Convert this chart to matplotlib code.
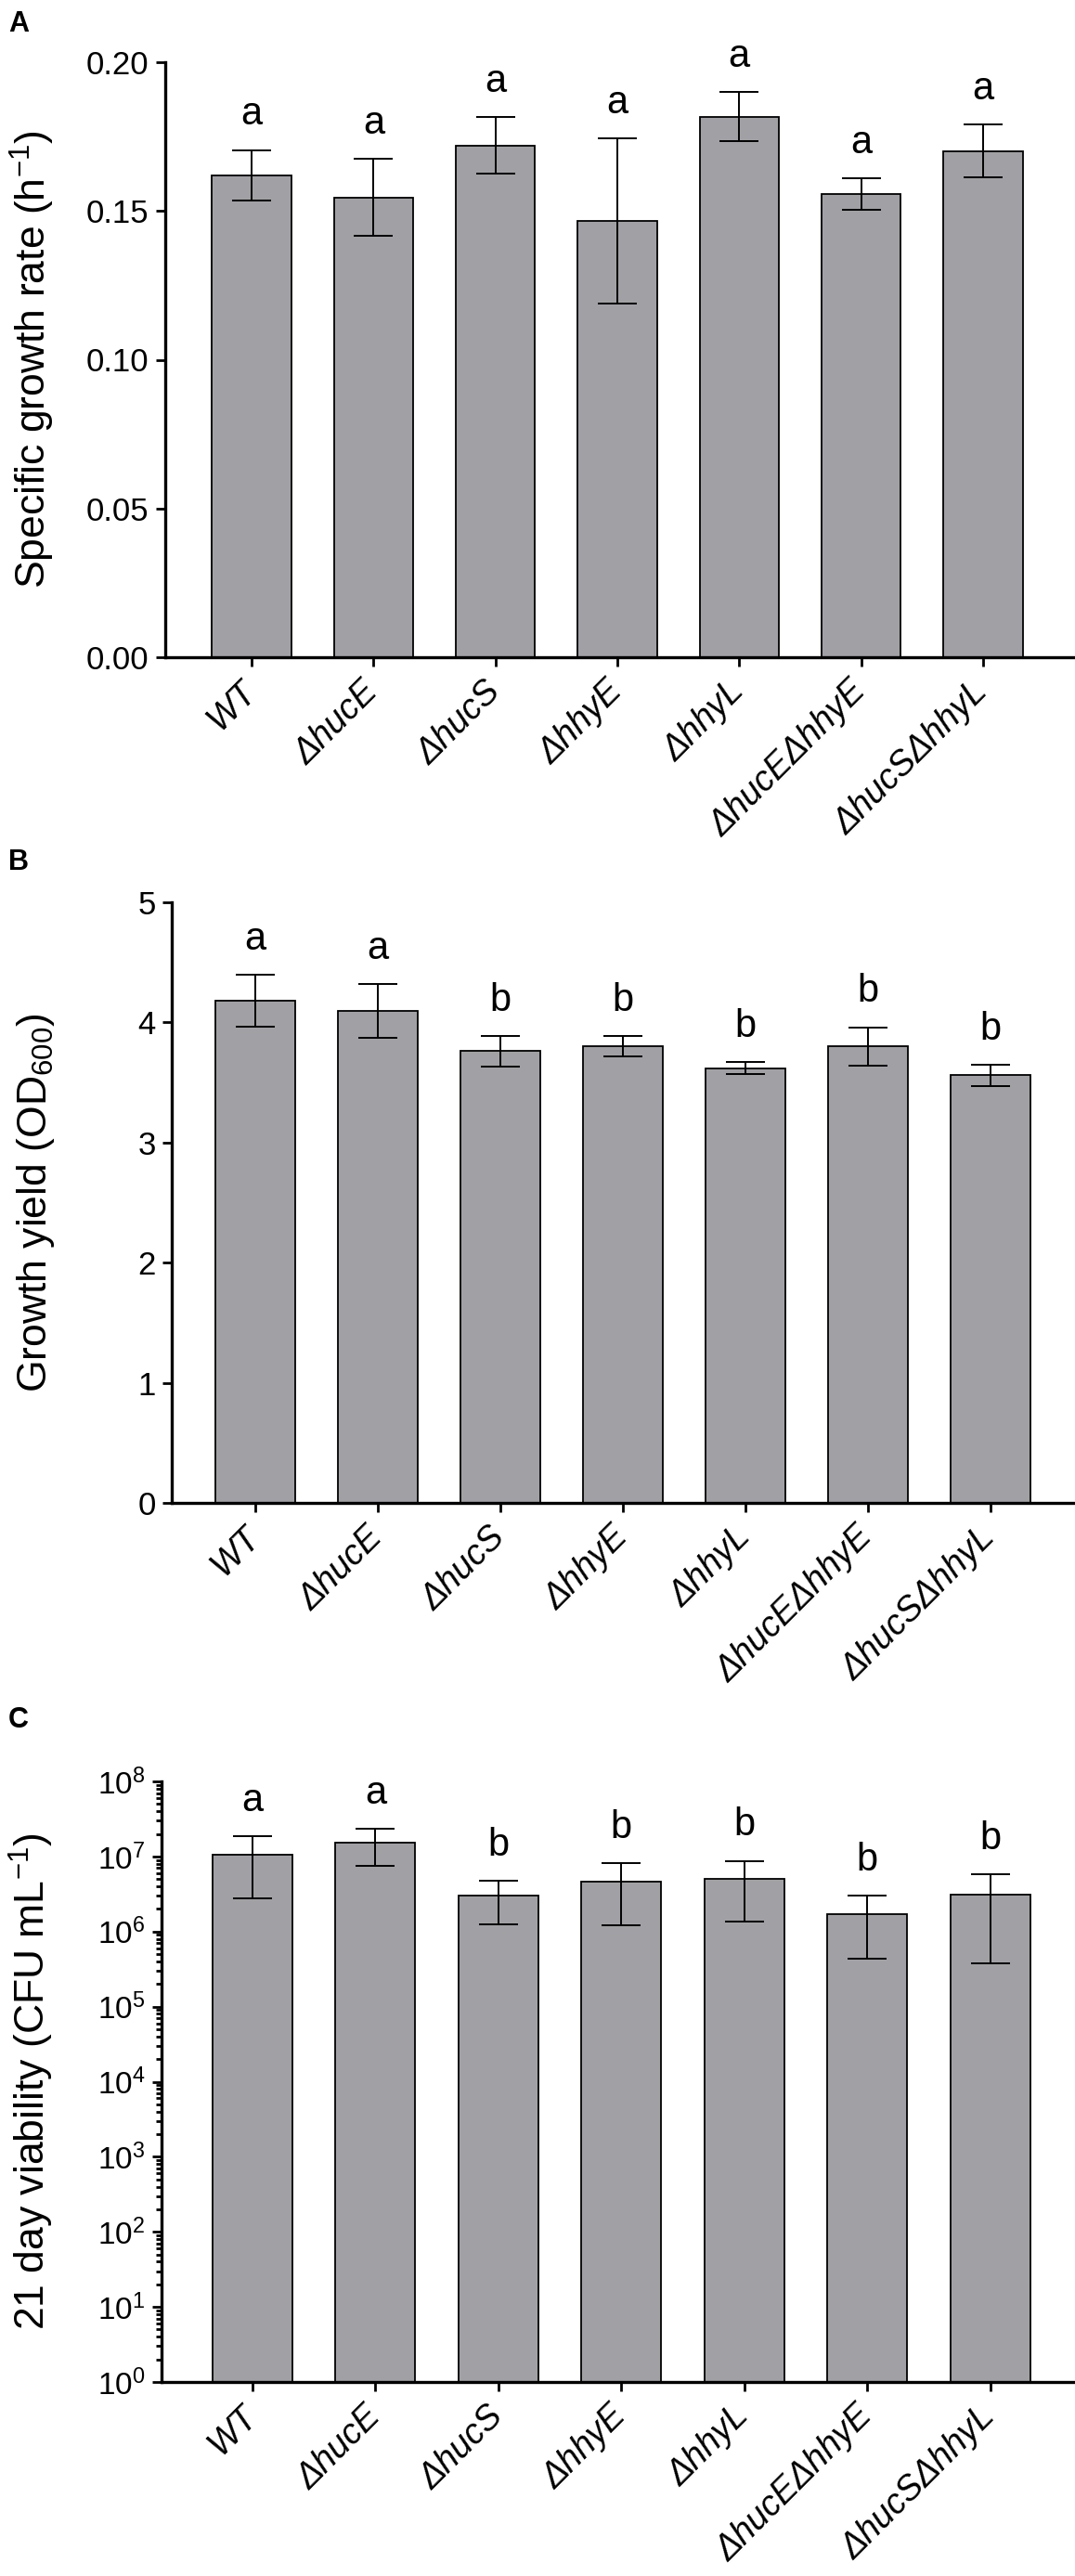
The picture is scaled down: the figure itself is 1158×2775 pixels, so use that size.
import numpy as np
import matplotlib
matplotlib.use("Agg")
import matplotlib.pyplot as plt
from matplotlib.ticker import LogLocator, FixedLocator, NullFormatter

plt.rcParams['font.family'] = ['Liberation Sans', 'DejaVu Sans']
plt.rcParams['mathtext.fontset'] = 'custom'
plt.rcParams['mathtext.rm'] = 'Liberation Sans'
plt.rcParams['mathtext.it'] = 'Liberation Sans:italic'
plt.rcParams['mathtext.default'] = 'regular'

strains = ['WT', 'ΔhucE', 'ΔhucS', 'ΔhhyE', 'ΔhhyL', 'ΔhucEΔhhyE', 'ΔhucSΔhhyL']

growth_rate = [0.162, 0.1545, 0.172, 0.1466, 0.1817, 0.1558, 0.1702]
growth_rate_err = [0.0085, 0.013, 0.0095, 0.0278, 0.0083, 0.0053, 0.0088]
growth_rate_letters = ['a', 'a', 'a', 'a', 'a', 'a', 'a']

yield_od = [4.18, 4.095, 3.76, 3.80, 3.62, 3.80, 3.56]
yield_err = [0.215, 0.225, 0.13, 0.085, 0.05, 0.16, 0.09]
yield_letters = ['a', 'a', 'b', 'b', 'b', 'b', 'b']

viability = [1.06e7, 1.54e7, 3.0e6, 4.66e6, 5.06e6, 1.72e6, 3.1e6]
viability_err = [7.8e6, 7.8e6, 1.76e6, 3.45e6, 3.7e6, 1.29e6, 2.72e6]
viability_letters = ['a', 'a', 'b', 'b', 'b', 'b', 'b']

W, H = 1158, 2775
fig = plt.figure(figsize=(W / 100, H / 100), dpi=100)

bar_color = '#a1a1a5'

def make_axes(left, right, top, bottom):
    return fig.add_axes([left / W, 1 - bottom / H, (right - left) / W, (bottom - top) / H])

def style(ax, xlim, ylabelsize=25):
    for s in ['top', 'right']:
        ax.spines[s].set_visible(False)
    for s in ['left', 'bottom']:
        ax.spines[s].set_linewidth(2.4)
    ax.tick_params(axis='both', which='major', width=2.0, length=7.5, direction='out', color='black')
    ax.tick_params(axis='y', labelsize=ylabelsize, pad=5)
    ax.set_xlim(*xlim)
    x = np.arange(len(strains))
    ax.set_xticks(x)
    ax.set_xticklabels(strains, rotation=45, ha='right', va='center', rotation_mode='anchor',
                       fontsize=27, fontstyle='italic')
    ax.tick_params(axis='x', pad=15)

def bars(ax, vals, errs, letters):
    x = np.arange(len(strains))
    ax.bar(x, vals, width=0.65, color=bar_color, edgecolor='black', linewidth=1.3, zorder=2)
    ax.errorbar(x, vals, yerr=errs, fmt='none', ecolor='black', elinewidth=1.4,
                capsize=15, capthick=1.4, zorder=3)
    for xi, v, e, l in zip(x, vals, errs, letters):
        ax.annotate(l, (xi, v + e), xytext=(0, 19.5), textcoords='offset points',
                    ha='center', va='baseline', fontsize=30)

# Panel A
axA = make_axes(178, 1158, 67, 708)
bars(axA, growth_rate, growth_rate_err, growth_rate_letters)
axA.set_ylim(0, 0.20)
axA.set_yticks([0.00, 0.05, 0.10, 0.15, 0.20])
axA.set_yticklabels(['0.00', '0.05', '0.10', '0.15', '0.20'])
style(axA, (-0.708, 6.754))
axA.set_ylabel('Specific growth rate (h$^{-1}$)', fontsize=32)
axA.yaxis.set_label_coords((61 - 178) / 980, 0.5)

# Panel B
axB = make_axes(185, 1158, 972, 1619)
bars(axB, yield_od, yield_err, yield_letters)
axB.set_ylim(0, 5)
axB.set_yticks([0, 1, 2, 3, 4, 5])
style(axB, (-0.68, 6.69))
axB.set_ylabel('Growth yield (OD$_{600}$)', fontsize=32)
axB.yaxis.set_label_coords((61 - 185) / 973, 0.5)

# Panel C
axC = make_axes(174, 1158, 1919, 2566)
axC.set_yscale('log')
bars(axC, viability, viability_err, viability_letters)
axC.set_ylim(1, 1e8)
axC.yaxis.set_major_locator(FixedLocator([10.0 ** k for k in range(9)]))
axC.set_yticklabels(['10$^{%d}$' % k for k in range(9)])
axC.yaxis.set_minor_locator(LogLocator(base=10, subs=np.arange(2, 10), numticks=20))
axC.yaxis.set_minor_formatter(NullFormatter())
style(axC, (-0.74, 6.69), ylabelsize=24)
axC.tick_params(axis='y', which='minor', width=2.0, length=4.0)
axC.set_ylabel('21 day viability (CFU mL$^{-1}$)', fontsize=32)
axC.yaxis.set_label_coords((60 - 174) / 984, 0.5)

# Panel letters
for lab, ypx in [('A', 26), ('B', 929), ('C', 1853)]:
    fig.text(9 / W, 1 - ypx / H, lab, fontsize=22, fontweight='bold', ha='left', va='center')

fig.savefig('out.png', dpi=100)
